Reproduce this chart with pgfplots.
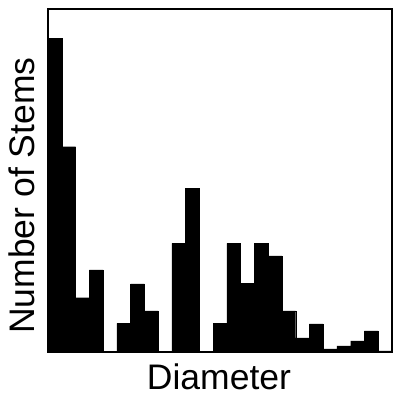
\documentclass[border=0pt]{standalone}
\usepackage{fontspec}
\setmainfont{Liberation Sans}
\usepackage{pgfplots}
\pgfplotsset{compat=1.18}
\begin{document}
\begin{tikzpicture}
\path[use as bounding box] (-48pt,-43pt) rectangle (345pt,352pt);
\begin{axis}[
  scale only axis,
  width=344pt, height=343pt,
  xmin=0, xmax=25, ymin=0, ymax=343,
  xtick=\empty, ytick=\empty,
  axis line style={line width=2pt},
  font=\fontsize{35.5}{40}\selectfont,
  xlabel={Diameter},
  ylabel={Number of Stems},
  xlabel style={at={(axis description cs:0.497,0)}, anchor=base, yshift=-37pt, text depth=0pt, inner sep=0pt},
  ylabel style={at={(axis description cs:-0.0378,0.456)}, anchor=base},
]
\addplot[ybar, bar width=1, bar shift=0pt, fill=black, draw=black, line width=0.3pt]
coordinates {
(0.5,313.7) (1.5,205.3) (2.5,54.3) (3.5,82) (4.5,0) (5.5,28.7) (6.5,68) (7.5,41)
(8.5,0) (9.5,108.7) (10.5,163.7) (11.5,0) (12.5,28.7) (13.5,108.7) (14.5,68.7)
(15.5,108.7) (16.5,96) (17.5,41) (18.5,14) (19.5,28) (20.5,3) (21.5,6) (22.5,11)
(23.5,21) (24.5,1)
};
\end{axis}
\end{tikzpicture}
\end{document}
